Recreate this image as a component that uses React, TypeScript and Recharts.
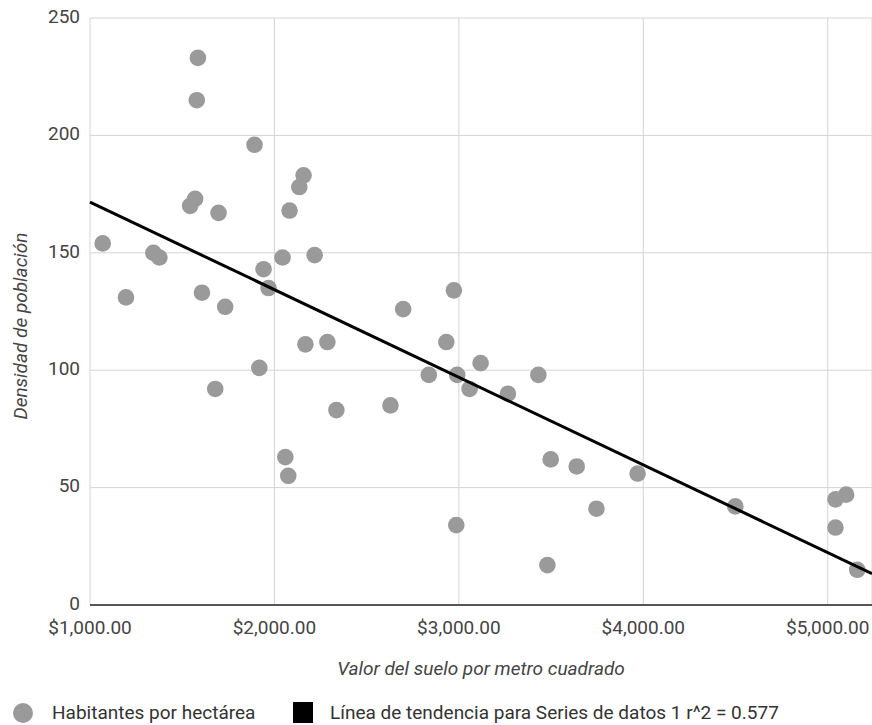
import { ScatterChart, Scatter, XAxis, YAxis, CartesianGrid } from 'recharts'

// valor del suelo ($/m2) y habitantes por hectárea
const valorSuelo = [
  1069, 1195, 1344, 1376, 1543, 1570, 1585, 1579, 1697, 1607, 1733, 1679,
  1892, 1941, 1968, 1918, 2044, 2082, 2135, 2158, 2218, 2168, 2287, 2336,
  2059, 2075, 2629, 2698, 2837, 2932, 2973, 2991, 3058, 3118, 3266, 2986,
  3431, 3498, 3639, 3746, 3969, 4499, 5042, 5100, 5042, 3480, 5160,
]
const habitantes = [
  154, 131, 150, 148, 170, 173, 233, 215, 167, 133, 127, 92,
  196, 143, 135, 101, 148, 168, 178, 183, 149, 111, 112, 83,
  63, 55, 85, 126, 98, 112, 134, 98, 92, 103, 90, 34,
  98, 62, 59, 41, 56, 42, 45, 47, 33, 17, 15,
]

// línea de tendencia (extremos)
const tendenciaX = [1000, 5240]
const tendenciaY = [171.6, 13.4]

const xTicks = [1000, 2000, 3000, 4000, 5000]
const yTicks = [0, 50, 100, 150, 200, 250]

const puntos = valorSuelo.map((x, i) => ({ x, y: habitantes[i] }))
const tendencia = tendenciaX.map((x, i) => ({ x, y: tendenciaY[i] }))

const font = 'Roboto, sans-serif'
const fs = 19
const fmt = (v: number) =>
  v.toLocaleString('en-US', { style: 'currency', currency: 'USD', minimumFractionDigits: 2 })

const TituloY = () => (
  <text
    x={20}
    y={326}
    transform="rotate(-90, 20, 326)"
    textAnchor="middle"
    dominantBaseline="central"
    fill="#444"
    fontSize={fs}
    fontStyle="italic"
    fontFamily={font}
  >
    Densidad de población
  </text>
)

export default function App() {
  return (
    <div style={{ position: 'absolute', left: 0, top: 0, width: 872, height: 725, fontFamily: font }}>
      <ScatterChart width={872} height={725} margin={{ top: 18, right: 0, left: 0, bottom: 0 }}>
        <CartesianGrid stroke="#d4d4d4" strokeWidth={1} />
        <XAxis
          type="number"
          dataKey="x"
          domain={[1000, 5240]}
          ticks={xTicks}
          tickFormatter={fmt}
          height={120}
          tickLine={false}
          tickMargin={10}
          axisLine={{ stroke: '#555', strokeWidth: 2 }}
          tick={{ fill: '#444', fontSize: fs, fontFamily: font }}
          label={{
            value: 'Valor del suelo por metro cuadrado',
            position: 'insideBottom',
            offset: 50,
            style: { fill: '#444', fontSize: fs, fontStyle: 'italic', fontFamily: font },
          }}
        />
        <YAxis
          type="number"
          dataKey="y"
          domain={[0, 250]}
          ticks={yTicks}
          width={90}
          tickLine={false}
          axisLine={false}
          tickMargin={4}
          tick={{ fill: '#444', fontSize: fs, fontFamily: font, dy: -2 }}
          label={<TituloY />}
        />
        <Scatter
          name="Habitantes por hectárea"
          data={puntos}
          fill="#9a9a9a"
          isAnimationActive={false}
          shape={(p: any) => <circle cx={p.cx} cy={p.cy} r={8.3} fill="#9a9a9a" />}
        />
        <Scatter
          name="Línea de tendencia"
          data={tendencia}
          line={{ stroke: '#000', strokeWidth: 3 }}
          isAnimationActive={false}
          shape={() => <g />}
        />
      </ScatterChart>
      <div style={{ position: 'absolute', left: 0, top: 700, width: 872, height: 25, fontSize: fs, color: '#333', lineHeight: '25px' }}>
        <span style={{ position: 'absolute', left: 13, top: 3, width: 20, height: 20, borderRadius: '50%', background: '#9a9a9a' }} />
        <span style={{ position: 'absolute', left: 52, top: 0, whiteSpace: 'nowrap' }}>Habitantes por hectárea</span>
        <span style={{ position: 'absolute', left: 293, top: 2, width: 20, height: 21, background: '#000' }} />
        <span style={{ position: 'absolute', left: 330, top: 0, whiteSpace: 'nowrap' }}>
          Línea de tendencia para Series de datos 1 r^2 = 0.577
        </span>
      </div>
    </div>
  )
}
